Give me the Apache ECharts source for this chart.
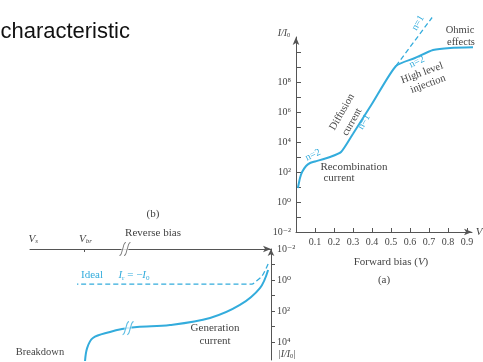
<!DOCTYPE html>
<html>
<head>
<meta charset="utf-8">
<script src="https://cdn.jsdelivr.net/npm/echarts@6/dist/echarts.min.js"></script>
<style>html,body{margin:0;padding:0;background:#fff}#c{width:483px;height:362px}</style>
</head>
<body>
<div id="c"></div>
<script>
// ---- forward bias (a): V in volts, log10(I/I0)
const fwdV    = [0.010, 0.021, 0.032, 0.053, 0.074, 0.10, 0.179, 0.237, 0.30, 0.40, 0.526, 0.626, 0.721, 0.811, 0.984];
const fwdLogI = [0.93,  1.60,  2.00,  2.40,  2.60,  2.70, 3.00,  3.33,  4.55, 6.55, 9.07,  9.60,  10.13, 10.27, 10.33];
// ideal n = 1 extension (dashed)
const n1V    = [0.526, 0.716];
const n1LogI = [9.07, 12.3];
const fwdXTicks = [0.1, 0.2, 0.3, 0.4, 0.5, 0.6, 0.7, 0.8, 0.9];
const fwdYMinor = [-1, 0, 1, 2, 3, 4, 5, 6, 7, 8, 9, 10];
const fwdYLabels = [-2, 0, 2, 4, 6, 8];

// ---- reverse bias (b): reverse voltage (arbitrary units), log10|I/I0|
const revV    = [0.12, 0.46, 1.29, 2.53, 4.19, 5.56, 6.18, 6.68, 7.39, 7.63, 7.72];
const revLogI = [-0.65, 0.52, 1.61, 2.45, 2.90, 3.03, 3.16, 3.35, 3.74, 4.39, 5.29];
const idealV    = [0.12, 0.37, 0.66, 0.79, 8.05];
const idealLogI = [-1.03, -0.26, 0.13, 0.26, 0.26];
const revYMinor = [-1, 0, 1, 2, 3, 4];
const revYLabels = [-2, 0, 2, 4];
const revXLabelValues = [7.7, 9.87];
const revXLabelNames  = ['br', 's'];
const breakAxis  = [[6.06, -2]];
const breakCurve = [[5.93, 3.1]];

const BLUE = '#33acdc';
const AX = '#555';
const TXT = '#444';
const SERIF = '"Liberation Serif", "DejaVu Serif", serif';
const sup = s => String(s).replace(/-/g,'⁻').replace(/\d/g, d => '⁰¹²³⁴⁵⁶⁷⁸⁹'[d]);
const zip = (a, b) => a.map((v, i) => [v, b[i]]);

const chart = echarts.init(document.getElementById('c'), null, {renderer: 'canvas'});
const squiggle = 'path://M0,14 C2.5,14 2.5,9 3.5,7 C4.5,5 4.5,0 7,0 M5,14 C7.5,14 7.5,9 8.5,7 C9.5,5 9.5,0 12,0';

function txt(x, y, text, opt) {
  opt = opt || {};
  return {
    type: 'text', x: x, y: y, rotation: opt.rot || 0, z: 10,
    style: {
      text: text, fill: opt.fill || TXT,
      font: (opt.italic ? 'italic ' : '') + (opt.size || 10.5) + 'px ' + (opt.family || SERIF),
      align: opt.align || 'center', verticalAlign: 'middle',
      rich: opt.rich
    }
  };
}
function gRich(color, size) {
  return {
    i: {fontFamily: SERIF, fontStyle: 'italic', fontSize: size, fill: color, lineHeight: size + 2},
    n: {fontFamily: SERIF, fontSize: size, fill: color, lineHeight: size + 2},
    s: {fontFamily: SERIF, fontSize: size * 0.65, fill: color, verticalAlign: 'bottom', lineHeight: size + 2}
  };
}

const subRich = {
  i: {fontFamily: SERIF, fontStyle: 'italic', fontSize: 11, color: TXT},
  s: {fontFamily: SERIF, fontStyle: 'italic', fontSize: 7, color: TXT, padding: [5, 0, 0, 0]}
};

const option = {
  animation: false,
  grid: [
    {left: 296, top: 37, width: 176, height: 195},
    {left: 30, top: 249, width: 241, height: 111}
  ],
  xAxis: [
    {
      gridIndex: 0, type: 'value', min: 0, max: 0.926,
      axisLine: {onZero: false, lineStyle: {color: AX, width: 1}, symbol: ['none', 'arrow'], symbolSize: [5, 8]},
      axisTick: {show: true, inside: true, length: 4, customValues: fwdXTicks, lineStyle: {color: AX}},
      axisLabel: {customValues: fwdXTicks, formatter: v => v.toFixed(1), color: TXT, fontFamily: SERIF, fontSize: 10, margin: 5},
      splitLine: {show: false}
    },
    {
      gridIndex: 1, type: 'value', min: 0, max: 10, inverse: true, position: 'top',
      axisLine: {onZero: false, lineStyle: {color: AX, width: 1}, symbol: ['none', 'arrow'], symbolSize: [5, 8]},
      axisTick: {show: true, inside: true, length: 3, customValues: [7.74], lineStyle: {color: AX}},
      axisLabel: {customValues: revXLabelValues, margin: 4,
        formatter: v => '{i|V}{s|' + revXLabelNames[revXLabelValues.indexOf(v)] + '}',
        rich: subRich},
      splitLine: {show: false}
    }
  ],
  yAxis: [
    {
      gridIndex: 0, type: 'value', min: -2, max: 11,
      axisLine: {onZero: false, lineStyle: {color: AX, width: 1}, symbol: ['none', 'arrow'], symbolSize: [5, 8]},
      axisTick: {show: true, inside: true, length: 5, customValues: fwdYMinor, lineStyle: {color: AX}},
      axisLabel: {customValues: fwdYLabels, formatter: v => '10' + sup(v), color: TXT, fontFamily: SERIF, fontSize: 10, margin: 5},
      splitLine: {show: false}
    },
    {
      gridIndex: 1, type: 'value', min: -2, max: 5.16, inverse: true, position: 'right',
      axisLine: {onZero: false, lineStyle: {color: AX, width: 1}, symbol: ['none', 'arrow'], symbolSize: [5, 7]},
      axisTick: {show: true, length: 4, customValues: revYMinor, lineStyle: {color: AX}},
      axisLabel: {customValues: revYLabels, formatter: v => '10' + sup(v), color: TXT, fontFamily: SERIF, fontSize: 10, margin: 6},
      splitLine: {show: false}
    }
  ],
  series: [
    {type: 'line', xAxisIndex: 0, yAxisIndex: 0, data: zip(fwdV, fwdLogI), symbol: 'none', clip: false,
     smooth: 0.2, lineStyle: {color: BLUE, width: 2}},
    {type: 'line', xAxisIndex: 0, yAxisIndex: 0, data: zip(n1V, n1LogI), symbol: 'none', clip: false,
     lineStyle: {color: BLUE, width: 1.3, type: [5, 3]}},
    {type: 'line', xAxisIndex: 1, yAxisIndex: 1, data: zip(revV, revLogI), symbol: 'none', clip: true,
     smooth: 0.35, lineStyle: {color: BLUE, width: 2}},
    {type: 'line', xAxisIndex: 1, yAxisIndex: 1, data: zip(idealV, idealLogI), symbol: 'none', clip: true,
     smooth: 0.3, lineStyle: {color: BLUE, width: 1.3, type: [5, 3]}},
    {type: 'scatter', xAxisIndex: 1, yAxisIndex: 1, data: breakAxis, symbol: 'rect', symbolSize: [7, 6],
     itemStyle: {color: '#fff'}, z: 5, clip: false},
    {type: 'scatter', xAxisIndex: 1, yAxisIndex: 1, data: breakAxis, symbol: squiggle, symbolSize: [11, 13],
     itemStyle: {color: 'transparent', borderColor: AX, borderWidth: 1}, z: 6, clip: false},
    {type: 'scatter', xAxisIndex: 1, yAxisIndex: 1, data: breakCurve, symbol: 'rect', symbolSize: [7, 7],
     itemStyle: {color: '#fff'}, z: 5, clip: false},
    {type: 'scatter', xAxisIndex: 1, yAxisIndex: 1, data: breakCurve, symbol: squiggle, symbolSize: [11, 13],
     itemStyle: {color: 'transparent', borderColor: BLUE, borderWidth: 1.2}, z: 6, clip: false}
  ],
  graphic: [
    txt(130, 32, 'characteristic', {align: 'right', size: 22, family: '"Liberation Sans", Arial, sans-serif', fill: '#111'}),
    txt(284, 33, '{i|I/I}{s|0}', {rich: gRich(TXT, 10)}),
    txt(479, 232, 'V', {italic: true, size: 11}),
    txt(391, 262, 'Forward bias ({i|V})', {size: 11, rich: {i: {fontFamily: SERIF, fontStyle: 'italic', fontSize: 11, fill: TXT}}}),
    txt(384, 280, '(a)', {size: 11}),
    txt(460, 30, 'Ohmic', {size: 10.5}),
    txt(461, 42, 'effects', {size: 10.5}),
    txt(422, 73, 'High level', {size: 10.5, rot: 0.35}),
    txt(428, 84, 'injection', {size: 10.5, rot: 0.35}),
    txt(417, 62, 'n=2', {size: 10, fill: BLUE, rot: 0.45}),
    txt(418, 23, 'n=1', {size: 10, fill: BLUE, rot: 1.05}),
    txt(364, 122, 'n=1', {size: 10, fill: BLUE, rot: 1.05}),
    txt(342, 112, 'Diffusion', {size: 10.5, rot: 1.05}),
    txt(352, 122, 'current', {size: 10.5, rot: 1.05}),
    txt(313, 155, 'n=2', {size: 10, fill: BLUE, rot: 0.45}),
    txt(354, 167, 'Recombination', {size: 11}),
    txt(339, 178, 'current', {size: 11}),
    txt(153, 214, '(b)', {size: 11}),
    txt(153, 233, 'Reverse bias', {size: 11}),
    txt(92, 275, 'Ideal', {size: 11, fill: BLUE}),
    txt(134, 275, '{i|I}{s|r}{n| = −}{i|I}{s|0}', {rich: gRich(BLUE, 11)}),
    txt(215, 328, 'Generation', {size: 11}),
    txt(215, 341, 'current', {size: 11}),
    txt(40, 352, 'Breakdown', {size: 10.5}),
    txt(287, 354, '{n||}{i|I/I}{s|0}{n||}', {rich: gRich(TXT, 10)})
  ]
};
chart.setOption(option);
</script>
</body>
</html>
